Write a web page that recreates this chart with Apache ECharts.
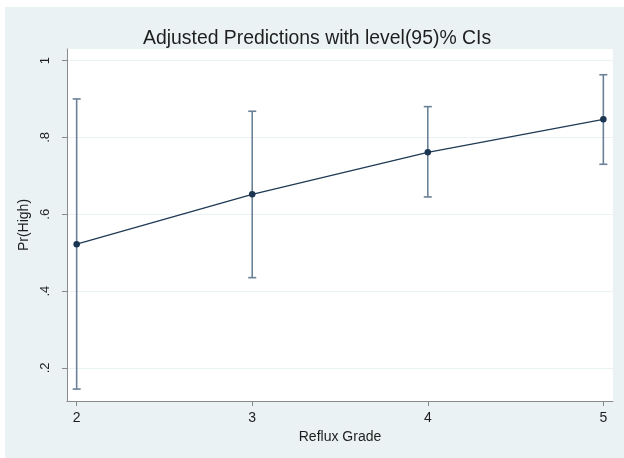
<!DOCTYPE html>
<html>
<head>
<meta charset="utf-8">
<script src="https://cdn.jsdelivr.net/npm/echarts@6/dist/echarts.min.js"></script>
<style>
html,body{margin:0;padding:0;background:#ffffff;}
#chart{width:624px;height:458px;}
</style>
</head>
<body>
<div id="chart"></div>
<script>
const refluxGrade = [2, 3, 4, 5];
const prHigh = [0.522, 0.652, 0.761, 0.847];
const ciLow = [0.145, 0.435, 0.645, 0.730];
const ciHigh = [0.900, 0.868, 0.880, 0.963];
const xTicks = [2, 3, 4, 5];
const yTicks = [0.2, 0.4, 0.6, 0.8, 1];
const yTickLabels = ['.2', '.4', '.6', '.8', '1'];

const font = '"Liberation Sans", Arial, sans-serif';
const chart = echarts.init(document.getElementById('chart'), null, {renderer: 'canvas'});

const ciData = refluxGrade.map((g, i) => [g, ciLow[i], ciHigh[i]]);
const lineData = refluxGrade.map((g, i) => [g, prHigh[i]]);

chart.setOption({
  backgroundColor: 'transparent',
  animation: false,
  graphic: [{
    type: 'rect', z: -10, silent: true,
    shape: {x: 5, y: 7, width: 619, height: 451},
    style: {fill: '#eaf2f3'}
  }],
  title: {
    text: 'Adjusted Predictions with level(95)% CIs',
    left: 138, top: 24,
    textStyle: {fontFamily: font, fontSize: 19.4, fontWeight: 'normal', color: '#1e1e1e'}
  },
  grid: {
    left: 67, right: 11, top: 49, bottom: 57,
    show: true, backgroundColor: '#ffffff', borderWidth: 0
  },
  xAxis: {
    type: 'value', min: 1.945, max: 5.055,
    name: 'Reflux Grade', nameLocation: 'middle', nameGap: 27,
    nameTextStyle: {fontFamily: font, fontSize: 14, color: '#1e1e1e'},
    axisLine: {show: true, lineStyle: {color: '#8a8a8a', width: 1}},
    axisTick: {show: true, length: 5, lineStyle: {color: '#8a8a8a'}, customValues: xTicks},
    axisLabel: {fontFamily: font, fontSize: 14, color: '#1e1e1e', margin: 10, customValues: xTicks,
      formatter: v => String(v)},
    splitLine: {show: false}
  },
  yAxis: {
    type: 'value', min: 0.114, max: 1.03,
    name: 'Pr(High)', nameLocation: 'middle', nameGap: 31, nameRotate: 90,
    nameTextStyle: {fontFamily: font, fontSize: 14, color: '#1e1e1e'},
    axisLine: {show: true, lineStyle: {color: '#8a8a8a', width: 1}},
    axisTick: {show: true, length: 5, lineStyle: {color: '#8a8a8a'}, customValues: yTicks},
    axisLabel: {fontFamily: font, fontSize: 13, color: '#1e1e1e', margin: 15, rotate: 90,
      customValues: yTicks,
      formatter: v => {
        const i = yTicks.findIndex(t => Math.abs(t - v) < 1e-6);
        return i >= 0 ? yTickLabels[i] : '';
      }},
    splitLine: {show: true, lineStyle: {color: '#eaf2f3', width: 1}}
  },
  series: [
    {
      type: 'custom',
      data: ciData,
      z: 2,
      renderItem: function (params, api) {
        const x = api.value(0);
        const lo = api.coord([x, api.value(1)]);
        const hi = api.coord([x, api.value(2)]);
        const cap = 4;
        const st = {stroke: '#6a8197', lineWidth: 1.6};
        return {
          type: 'group',
          children: [
            {type: 'line', shape: {x1: lo[0], y1: lo[1], x2: hi[0], y2: hi[1]}, style: st},
            {type: 'line', shape: {x1: lo[0] - cap, y1: lo[1], x2: lo[0] + cap, y2: lo[1]}, style: st},
            {type: 'line', shape: {x1: hi[0] - cap, y1: hi[1], x2: hi[0] + cap, y2: hi[1]}, style: st}
          ]
        };
      }
    },
    {
      type: 'line',
      data: lineData,
      z: 3,
      symbol: 'circle', symbolSize: 6.5,
      lineStyle: {color: '#1f3a55', width: 1.3},
      itemStyle: {color: '#1a3552'}
    }
  ]
});
</script>
</body>
</html>
